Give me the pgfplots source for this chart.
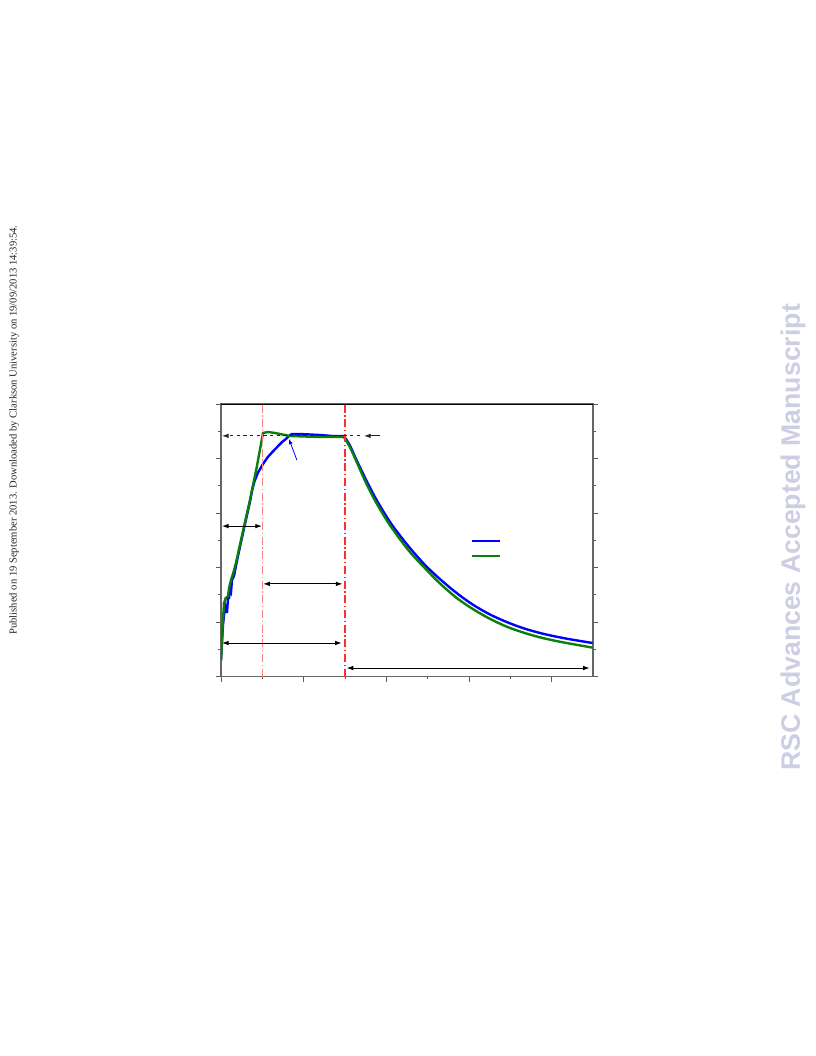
\documentclass[border=0pt]{standalone}
\usepackage{fontspec}
\setmainfont{Liberation Serif}
\newfontfamily\rscfont{Liberation Sans}
\usepackage{pgfplots}
\pgfplotsset{compat=1.18}
\usetikzlibrary{arrows.meta}

\definecolor{expblue}{RGB}{0,0,255}
\definecolor{simgreen}{RGB}{10,128,10}
\definecolor{rsclav}{RGB}{205,205,228}
\definecolor{pinkred}{RGB}{255,125,125}
\definecolor{dashred}{RGB}{255,45,45}

\begin{document}
\begin{tikzpicture}[x=1pt,y=1pt]
  \useasboundingbox (0,0) rectangle (612,792);

  % margin stamps
  \node[rotate=90, font=\fontsize{7.95}{9}\selectfont, text=black!85]
    at (10.5,469.5) {Published on 19 September 2013. Downloaded by Clarkson University on 19/09/2013 14:39:54.};
  \node[rotate=90, font=\rscfont\bfseries\fontsize{20}{24}\selectfont, text=rsclav]
    at (594.75,388.9) {RSC Advances Accepted Manuscript};

  \begin{axis}[
      at={(165.75pt,284.6pt)}, anchor=south west,
      scale only axis,
      width=279pt, height=204.4pt,
      xmin=0, xmax=4.5,
      ymin=0, ymax=5,
      xtick={0,1,2,3,4},
      minor xtick={0.5,1.5,2.5,3.5},
      ytick={0,1,2,3,4,5},
      minor ytick={0.5,1.5,2.5,3.5,4.5},
      xticklabels={}, yticklabels={},
      xtick pos=left, ytick pos=both,
      tick align=outside,
      major tick length=4pt, minor tick length=2.2pt,
      tick style={black!65, line width=0.7pt},
      axis line style={black!60, line width=0.9pt},
      legend image code/.code={\draw[#1] (0pt,0pt) -- (21pt,0pt);},
      legend style={draw=none, fill=none, inner sep=0pt, outer sep=0pt,
        at={(axis cs:3.016,2.62)}, anchor=north west, row sep=0pt,
        nodes={inner sep=0pt, minimum height=11.25pt}},
    ]

    % experiment (blue): rise and plateau
    \addplot[expblue, line width=1.8pt] coordinates {
      (0,0.303) (0.012,0.633) (0.024,0.945) (0.048,1.294) (0.060,1.183)
      (0.073,1.183) (0.085,1.440) (0.097,1.440) (0.109,1.587) (0.121,1.550)
      (0.133,1.771) (0.157,1.844) (0.181,2.028) (0.205,2.211) (0.242,2.468)
      (0.290,2.798) (0.350,3.202) (0.380,3.440) (0.405,3.580) (0.447,3.740)
      (0.508,3.900) (0.568,4.030) (0.628,4.130) (0.689,4.225) (0.737,4.300)
      (0.785,4.358) (0.822,4.413) (0.858,4.450) (0.955,4.450) (1.076,4.440)
      (1.196,4.431) (1.341,4.413) (1.486,4.413)
    };
    \addlegendentry{}
    % experiment (blue): decay
    \addplot[expblue, line width=1.8pt, smooth, tension=0.5, forget plot] coordinates {
      (1.486,4.413) (1.559,4.240) (1.643,3.960) (1.764,3.580) (1.885,3.230)
      (2.042,2.840) (2.163,2.590) (2.284,2.360) (2.465,2.050) (2.647,1.790)
      (2.852,1.530) (3.045,1.320) (3.251,1.140) (3.456,1.000) (3.650,0.890)
      (3.855,0.800) (4.060,0.730) (4.254,0.675) (4.495,0.615)
    };

    % model (green): rise and plateau
    \addplot[simgreen, line width=1.8pt] coordinates {
      (0,0.284) (0.012,0.670) (0.024,1.037) (0.036,1.349) (0.060,1.440)
      (0.085,1.477) (0.097,1.624) (0.121,1.771) (0.145,1.881) (0.181,2.083)
      (0.242,2.505) (0.350,3.239) (0.435,3.862) (0.508,4.468) (0.568,4.486)
      (0.653,4.468) (0.834,4.413) (1.196,4.394) (1.486,4.394)
    };
    \addlegendentry{}
    % model (green): decay
    \addplot[simgreen, line width=1.8pt, smooth, tension=0.5] coordinates {
      (1.486,4.394) (1.559,4.210) (1.643,3.930) (1.764,3.520) (1.885,3.170)
      (2.042,2.780) (2.260,2.330) (2.465,1.990) (2.647,1.710) (2.852,1.440)
      (3.045,1.240) (3.251,1.060) (3.456,0.915) (3.650,0.810) (3.855,0.720)
      (4.060,0.650) (4.254,0.595) (4.495,0.530)
    };

    % top frame line
    \draw[black, line width=0.6pt] (rel axis cs:0,1) -- (rel axis cs:1,1);

    % stage boundaries
    \draw[pinkred, line width=0.8pt, dash pattern=on 6pt off 2pt on 1pt off 2pt]
      (axis cs:0.5,0) -- (axis cs:0.5,5);
    \draw[dashred, line width=0.8pt, dash pattern=on 6pt off 2pt on 1pt off 2pt]
      (axis cs:1.5,0) -- (axis cs:1.5,5);

    % level line and arrows
    \draw[black!85, line width=0.7pt, dash pattern=on 2.5pt off 2.5pt, -{Latex[length=5pt,width=3.5pt]}]
      (axis cs:1.68,4.415) -- (axis cs:0.012,4.415);
    \draw[black!85, line width=0.7pt, -{Latex[length=5pt,width=3.5pt]}]
      (axis cs:1.92,4.415) -- (axis cs:1.73,4.415);
    \draw[expblue, line width=0.6pt, -{Latex[length=4pt,width=3pt]}]
      (axis cs:0.918,3.97) -- (axis cs:0.822,4.36);

    \draw[black, line width=0.7pt, {Latex[length=5pt,width=3.5pt]}-{Latex[length=5pt,width=3.5pt]}]
      (axis cs:0.012,2.76) -- (axis cs:0.495,2.76);
    \draw[black, line width=0.7pt, {Latex[length=5pt,width=3.5pt]}-{Latex[length=5pt,width=3.5pt]}]
      (axis cs:0.51,1.70) -- (axis cs:1.47,1.70);
    \draw[black, line width=0.7pt, {Latex[length=5pt,width=3.5pt]}-{Latex[length=5pt,width=3.5pt]}]
      (axis cs:0.012,0.615) -- (axis cs:1.46,0.615);
    \draw[black, line width=0.7pt, {Latex[length=5pt,width=3.5pt]}-{Latex[length=5pt,width=3.5pt]}]
      (axis cs:1.52,0.156) -- (axis cs:4.46,0.156);
  \end{axis}
\end{tikzpicture}
\end{document}
